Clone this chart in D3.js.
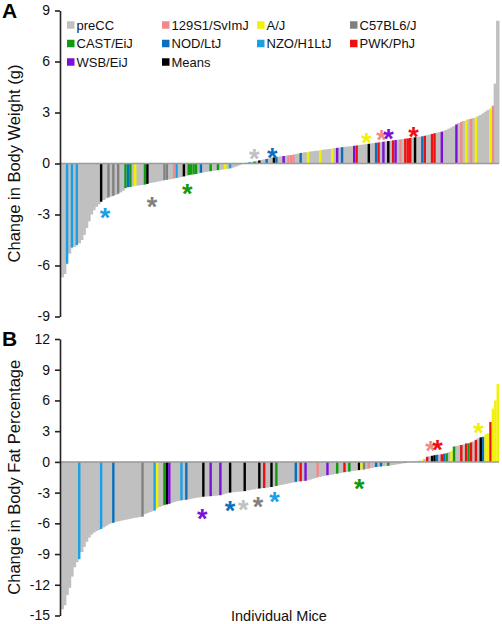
<!DOCTYPE html>
<html><head><meta charset="utf-8">
<script src="https://cdn.jsdelivr.net/npm/d3@7"></script>
<style>body{margin:0;background:#fff}svg{display:block;font-family:"Liberation Sans",Arial,sans-serif}</style>
</head><body><svg id="c" width="502" height="624"></svg>
<script>
// ---- data ----
const strainCodes = ["g","s","a","c","e","n","z","p","w","m"];
const strainNames = ["preCC","129S1/SvImJ","A/J","C57BL6/J","CAST/EiJ","NOD/LtJ","NZO/H1LtJ","PWK/PhJ","WSB/EiJ","Means"];
const strainColors = ["#c0c0c0","#f08a8a","#f2f200","#808080","#109a10","#0b6fbd","#1aa0e6","#ee1010","#7d10d8","#000000"];

const weightChange = [
-6.7,-6.5,-5.9,-5.3,-4.95,-4.9,-4.8,-4.7,-4.5,-4.2,
-3.8,-3.4,-3.0,-2.75,-2.55,-2.4,-2.25,-2.15,-2.05,-2.0,
-1.95,-1.9,-1.85,-1.78,-1.7,-1.6,-1.45,-1.4,-1.38,-1.35,
-1.32,-1.3,-1.28,-1.26,-1.24,-1.2,-1.15,-1.12,-1.1,-1.07,
-1.04,-1.01,-0.98,-0.96,-0.94,-0.91,-0.88,-0.85,-0.82,-0.8,
-0.76,-0.72,-0.68,-0.66,-0.64,-0.62,-0.58,-0.55,-0.52,-0.5,
-0.47,-0.45,-0.43,-0.41,-0.39,-0.37,-0.35,-0.33,-0.31,-0.29,
-0.25,-0.2,-0.15,-0.08,-0.03,0.02,0.05,0.08,0.1,0.12,
0.15,0.18,0.21,0.24,0.27,0.3,0.33,0.36,0.38,0.4,
0.42,0.44,0.46,0.48,0.5,0.52,0.55,0.58,0.62,0.64,
0.66,0.68,0.7,0.72,0.74,0.76,0.78,0.8,0.82,0.84,
0.86,0.88,0.9,0.92,0.94,0.96,0.98,0.99,1.0,1.02,
1.04,1.06,1.08,1.1,1.12,1.14,1.16,1.18,1.2,1.22,
1.24,1.26,1.28,1.3,1.32,1.34,1.36,1.38,1.4,1.42,
1.44,1.46,1.48,1.5,1.52,1.54,1.56,1.58,1.6,1.63,
1.66,1.7,1.74,1.78,1.81,1.84,1.87,1.92,1.98,2.05,
2.12,2.2,2.3,2.38,2.45,2.5,2.55,2.6,2.63,2.67,
2.72,2.78,2.85,2.95,3.05,3.15,3.25,3.4,4.7,8.4];
const weightStrain = ("ggzgzgzggg"+"ggggggmggc"+"gcgcggeneg"+"agggemgggg"+"ggccggszgg"+
 "mgeeeegngg"+"geggeggagz"+"gggggggzge"+"gmggnggmng"+"gwgsssggng"+
 "gaggggaggg"+"gagwgngggg"+"wpggggmggn"+"pgwgmgpwgs"+"gpppgmggnp"+
 "ggppggwggg"+"ggwgsgagsg"+"agggggasgg").split("");

const fatChange = [
-14.4,-14.0,-13.0,-12.3,-11.2,-10.3,-9.8,-9.5,-8.8,-8.3,
-7.8,-7.4,-7.1,-6.9,-6.75,-6.65,-6.55,-6.4,-6.25,-6.1,
-6.0,-5.95,-5.85,-5.8,-5.75,-5.7,-5.65,-5.6,-5.55,-5.5,
-5.45,-5.42,-5.38,-5.35,-5.1,-5.0,-4.9,-4.82,-4.75,-4.55,
-4.4,-4.3,-4.2,-4.15,-4.1,-4.0,-3.9,-3.85,-3.8,-3.75,
-3.72,-3.7,-3.65,-3.6,-3.55,-3.5,-3.47,-3.44,-3.4,-3.38,
-3.36,-3.35,-3.33,-3.3,-3.28,-3.25,-3.2,-3.1,-3.05,-3.0,
-2.97,-2.95,-2.92,-2.9,-2.88,-2.85,-2.8,-2.75,-2.7,-2.67,
-2.63,-2.6,-2.57,-2.55,-2.52,-2.48,-2.45,-2.4,-2.35,-2.3,
-2.25,-2.2,-2.15,-2.1,-2.05,-2.0,-1.95,-1.92,-1.9,-1.87,
-1.85,-1.8,-1.72,-1.65,-1.58,-1.5,-1.45,-1.4,-1.35,-1.3,
-1.27,-1.23,-1.19,-1.15,-1.1,-1.05,-1.0,-0.98,-0.95,-0.9,
-0.86,-0.83,-0.8,-0.78,-0.75,-0.7,-0.65,-0.6,-0.55,-0.5,
-0.48,-0.45,-0.42,-0.4,-0.38,-0.34,-0.3,-0.26,-0.22,-0.18,
-0.14,-0.1,-0.05,0.02,0.04,0.06,0.08,0.12,0.18,0.3,
0.5,0.55,0.6,0.65,0.7,0.72,0.75,0.8,0.85,0.95,
1.1,1.5,1.55,1.6,1.65,1.7,1.8,1.82,1.9,2.0,
2.15,2.3,2.4,2.45,2.7,2.8,3.9,5.2,6.0,7.6];
const fatStrain = ("gggggggzgg"+"ggggggzggg"+"gngggggggg"+"gggcggggza"+"ggemwggggz"+
 "gnggggggmg"+"gwgggwgggm"+"gggggmgggg"+"gmgpggmgeg"+"ggggggngpg"+
 "wggggsgggw"+"gggeggpgeg"+"ggmacgsggn"+"gnggeggggg"+"gegggsggag"+
 "pgmmngpneg"+"aeggpgpepg"+"pgmnaapaaa").split("");

// significance asterisks: strain, bar position (in mice), value
const weightStarStrain = ["z","c","e","g","n","a","s","w","p"];
const weightStarPos    = [18.1,37.4,51.9,79.4,86.8,125.5,131.7,134.6,144.9];
const weightStarValue  = [-2.85,-2.15,-1.44,0.62,0.68,1.56,1.74,1.85,1.97];
const fatStarStrain = ["w","n","g","c","z","e","s","p","a"];
const fatStarPos    = [58.0,69.5,74.9,81.0,87.7,122.6,151.9,154.7,171.6];
const fatStarValue  = [-4.9,-4.2,-4.1,-3.75,-3.25,-1.98,1.74,1.84,3.5];

const weightTicks = [-9,-6,-3,0,3,6,9];
const fatTicks = [-15,-12,-9,-6,-3,0,3,6,9,12];

// ---- drawing ----
const svg = d3.select("#c");
const color = d3.scaleOrdinal().domain(strainCodes).range(strainColors);

function panel(vals, strains, starS, starP, starV, ticks, yRange, letter, letterY, label) {
  const n = vals.length;
  const x = d3.scaleLinear().domain([0, n]).range([61, 499]);
  const y = d3.scaleLinear().domain(d3.extent(ticks)).range(yRange);
  const w = x(1) - x(0);
  const g = svg.append("g");
  const data = vals.map((v, i) => ({i, v, s: strains[i]}));
  // gray first (slightly widened so no seams), colored on top
  const gray = data.filter(d => d.s === "g");
  const col = data.filter(d => d.s !== "g");
  g.selectAll("rect.gray").data(gray).join("rect").attr("class", "gray")
    .attr("x", d => x(d.i) - 0.5)
    .attr("width", w + 1)
    .attr("y", d => y(Math.max(0, d.v)))
    .attr("height", d => Math.abs(y(d.v) - y(0)))
    .attr("fill", d => color(d.s));
  g.selectAll("rect.col").data(col).join("rect").attr("class", "col")
    .attr("x", d => x(d.i))
    .attr("width", w)
    .attr("y", d => y(Math.max(0, d.v)))
    .attr("height", d => Math.abs(y(d.v) - y(0)))
    .attr("fill", d => color(d.s));
  // zero line
  g.append("line").attr("x1", 61).attr("x2", 499).attr("y1", y(0)).attr("y2", y(0))
    .attr("stroke", "#9a9a9a").attr("stroke-width", 1.5);
  // stars
  g.selectAll("text.star").data(starS.map((s, k) => ({s, p: starP[k], v: starV[k]}))).join("text")
    .attr("x", d => x(d.p)).attr("y", d => y(d.v) + 15.5)
    .attr("text-anchor", "middle").attr("font-size", 27).attr("font-weight", "bold")
    .attr("fill", d => color(d.s)).text("*");
  // axis
  const ax = g.append("g").attr("transform", "translate(60,0)")
    .call(d3.axisLeft(y).tickValues(ticks).tickSize(5).tickSizeOuter(0).tickPadding(5).tickFormat(d => String(d)));
  ax.select(".domain").attr("stroke", "#222").attr("stroke-width", 1.6);
  ax.selectAll(".tick line").attr("stroke", "#222").attr("stroke-width", 1.6);
  ax.selectAll(".tick text").attr("font-size", 14).attr("fill", "#111").attr("font-family", "Liberation Sans, Arial, sans-serif");
  // axis title
  const yc = (yRange[0] + yRange[1]) / 2;
  svg.append("text").attr("transform", `translate(20,${yc}) rotate(-90)`)
    .attr("text-anchor", "middle").attr("font-size", 16.5).attr("fill", "#111").text(label);
  svg.append("text").attr("x", 2).attr("y", letterY).attr("font-size", 21).attr("font-weight", "bold").text(letter);
}

panel(weightChange, weightStrain, weightStarStrain, weightStarPos, weightStarValue, weightTicks,
  [316.5, 10.5], "A", 18, "Change in Body Weight (g)");
panel(fatChange, fatStrain, fatStarStrain, fatStarPos, fatStarValue, fatTicks,
  [615.5, 339], "B", 346, "Change in Body Fat Percentage");

svg.append("text").attr("x", 279).attr("y", 621).attr("text-anchor", "middle")
  .attr("font-size", 14.5).attr("fill", "#111").text("Individual Mice");

// legend
const legCols = [67, 162, 257, 350];
const legRows = [25, 43.5, 62];
const leg = svg.append("g");
strainNames.forEach((name, k) => {
  const cx = legCols[k % 4], cy = legRows[Math.floor(k / 4)];
  leg.append("rect").attr("x", cx).attr("y", cy - 3.75).attr("width", 7.5).attr("height", 7.5)
    .attr("fill", strainColors[k]);
  leg.append("text").attr("x", cx + 9.5).attr("y", cy + 4.5).attr("font-size", 13).attr("fill", "#111").text(name);
});
</script></body></html>
